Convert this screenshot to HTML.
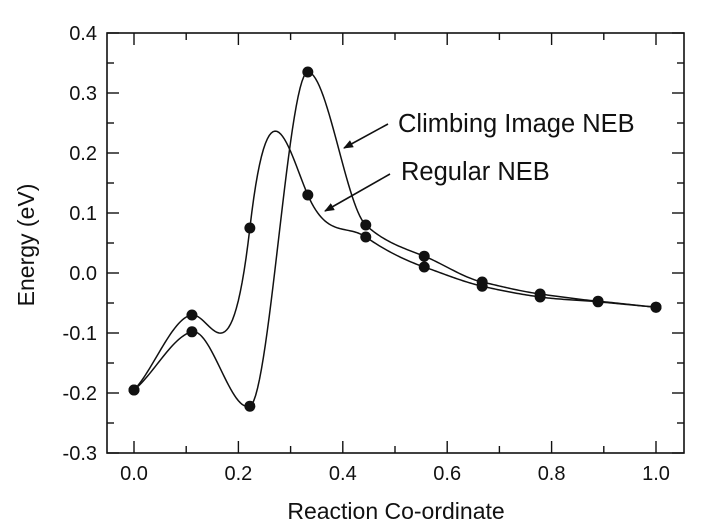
<!DOCTYPE html>
<html><head><meta charset="utf-8"><style>
body{margin:0;background:#fff}
svg{display:block;font-family:"Liberation Sans",Arial,sans-serif}
</style></head><body>
<svg id="chart" width="719" height="526" viewBox="0 0 719 526">
<defs><marker id="ah" markerWidth="10" markerHeight="8" refX="9" refY="4" orient="auto" markerUnits="userSpaceOnUse"><path d="M0,0 L10,4 L0,8 Z" fill="#111"/></marker></defs>
<g id="axes"></g>
<g id="series"></g>
<text x="398" y="132" font-size="25.5" fill="#111">Climbing Image NEB</text>
<line x1="388" y1="124" x2="344" y2="148" stroke="#111" stroke-width="1.6" marker-end="url(#ah)"/>
<text x="401" y="180" font-size="25.5" fill="#111">Regular NEB</text>
<line x1="390" y1="174" x2="325" y2="211" stroke="#111" stroke-width="1.6" marker-end="url(#ah)"/>
<text x="396" y="519" font-size="23" text-anchor="middle" fill="#111">Reaction Co-ordinate</text>
<text transform="translate(34,245) rotate(-90)" font-size="23" text-anchor="middle" fill="#111">Energy  (eV)</text>
</svg>
<script>
const xs = [0, 0.111, 0.222, 0.333, 0.444, 0.556, 0.667, 0.778, 0.889, 1.0];
const regularE = [-0.195, -0.07, 0.075, 0.13, 0.06, 0.01, -0.022, -0.04, -0.048, -0.057];
const regularSlope = [0.9, 0.1, 7.5, -2, -0.6, -0.3, -0.2, -0.12, -0.08, -0.08];
const climbE = [-0.195, -0.098, -0.222, 0.335, 0.08, 0.028, -0.015, -0.035, -0.047, -0.057];
const climbSlope = [0.7, 0.2, 0.3, 0, -0.8, -0.35, -0.2, -0.12, -0.08, -0.08];
const xTicks = [0, 0.2, 0.4, 0.6, 0.8, 1.0];
const xTickLabels = ["0.0", "0.2", "0.4", "0.6", "0.8", "1.0"];
const yTicks = [-0.3, -0.2, -0.1, 0, 0.1, 0.2, 0.3, 0.4];
const yTickLabels = ["-0.3", "-0.2", "-0.1", "0.0", "0.1", "0.2", "0.3", "0.4"];

const L = 107, R = 684, T = 33, B = 453;
const X = v => 134 + v * 522;
const Y = v => T + (0.4 - v) / 0.7 * (B - T);
const NS = "http://www.w3.org/2000/svg";
function mk(tag, attrs, parent) {
  const e = document.createElementNS(NS, tag);
  for (const k in attrs) e.setAttribute(k, attrs[k]);
  parent.appendChild(e);
  return e;
}
const ax = document.getElementById('axes');
const frame = mk('rect', {x: L, y: T, width: R - L, height: B - T, fill: 'none', stroke: '#111', 'stroke-width': 1.6}, ax);


for (let i = 0; i <= 10; i++) {
  const v = i / 10, px = X(v), len = i % 2 === 0 ? 12 : 7;
  const t1 = mk('line', {x1: px, y1: B, x2: px, y2: B - len, stroke: '#111', 'stroke-width': 1.4}, ax);
  
  
  const t2 = mk('line', {x1: px, y1: T, x2: px, y2: T + len, stroke: '#111', 'stroke-width': 1.4}, ax);
  
  
}
xTicks.forEach((v, i) => {
  const t = mk('text', {x: X(v), y: B + 27, 'font-size': 20, 'text-anchor': 'middle', fill: '#111'}, ax);
  t.textContent = xTickLabels[i];
  
  
});
for (let i = 0; i <= 14; i++) {
  const v = -0.3 + i * 0.05, py = Y(v), len = i % 2 === 0 ? 12 : 7;
  const t1 = mk('line', {x1: L, y1: py, x2: L + len, y2: py, stroke: '#111', 'stroke-width': 1.4}, ax);
  
  
  const t2 = mk('line', {x1: R, y1: py, x2: R - len, y2: py, stroke: '#111', 'stroke-width': 1.4}, ax);
  
  
}
yTicks.forEach((v, i) => {
  const t = mk('text', {x: L - 10, y: Y(v) + 7, 'font-size': 20, 'text-anchor': 'end', fill: '#111'}, ax);
  t.textContent = yTickLabels[i];
  
  
});
function hermitePath(ys, ms) {
  let d = 'M' + X(xs[0]).toFixed(2) + ',' + Y(ys[0]).toFixed(2);
  for (let i = 0; i < xs.length - 1; i++) {
    const h = xs[i + 1] - xs[i];
    for (let s = 1; s <= 30; s++) {
      const t = s / 30, t2 = t * t, t3 = t2 * t;
      const v = (2*t3 - 3*t2 + 1) * ys[i] + (t3 - 2*t2 + t) * h * ms[i] + (-2*t3 + 3*t2) * ys[i+1] + (t3 - t2) * h * ms[i+1];
      d += ' L' + X(xs[i] + t * h).toFixed(2) + ',' + Y(v).toFixed(2);
    }
  }
  return d;
}
const sg = document.getElementById('series');
[[regularE, regularSlope, 'regular-neb'], [climbE, climbSlope, 'climbing-image-neb']].forEach(([ys, ms, name]) => {
  const p = mk('path', {d: hermitePath(ys, ms), fill: 'none', stroke: '#111', 'stroke-width': 1.5}, sg);
  
  
  ys.forEach((v, i) => {
    const c = mk('circle', {cx: X(xs[i]), cy: Y(v), r: 5.5, fill: '#111'}, sg);
    
    
  });
});
</script>
</body></html>
